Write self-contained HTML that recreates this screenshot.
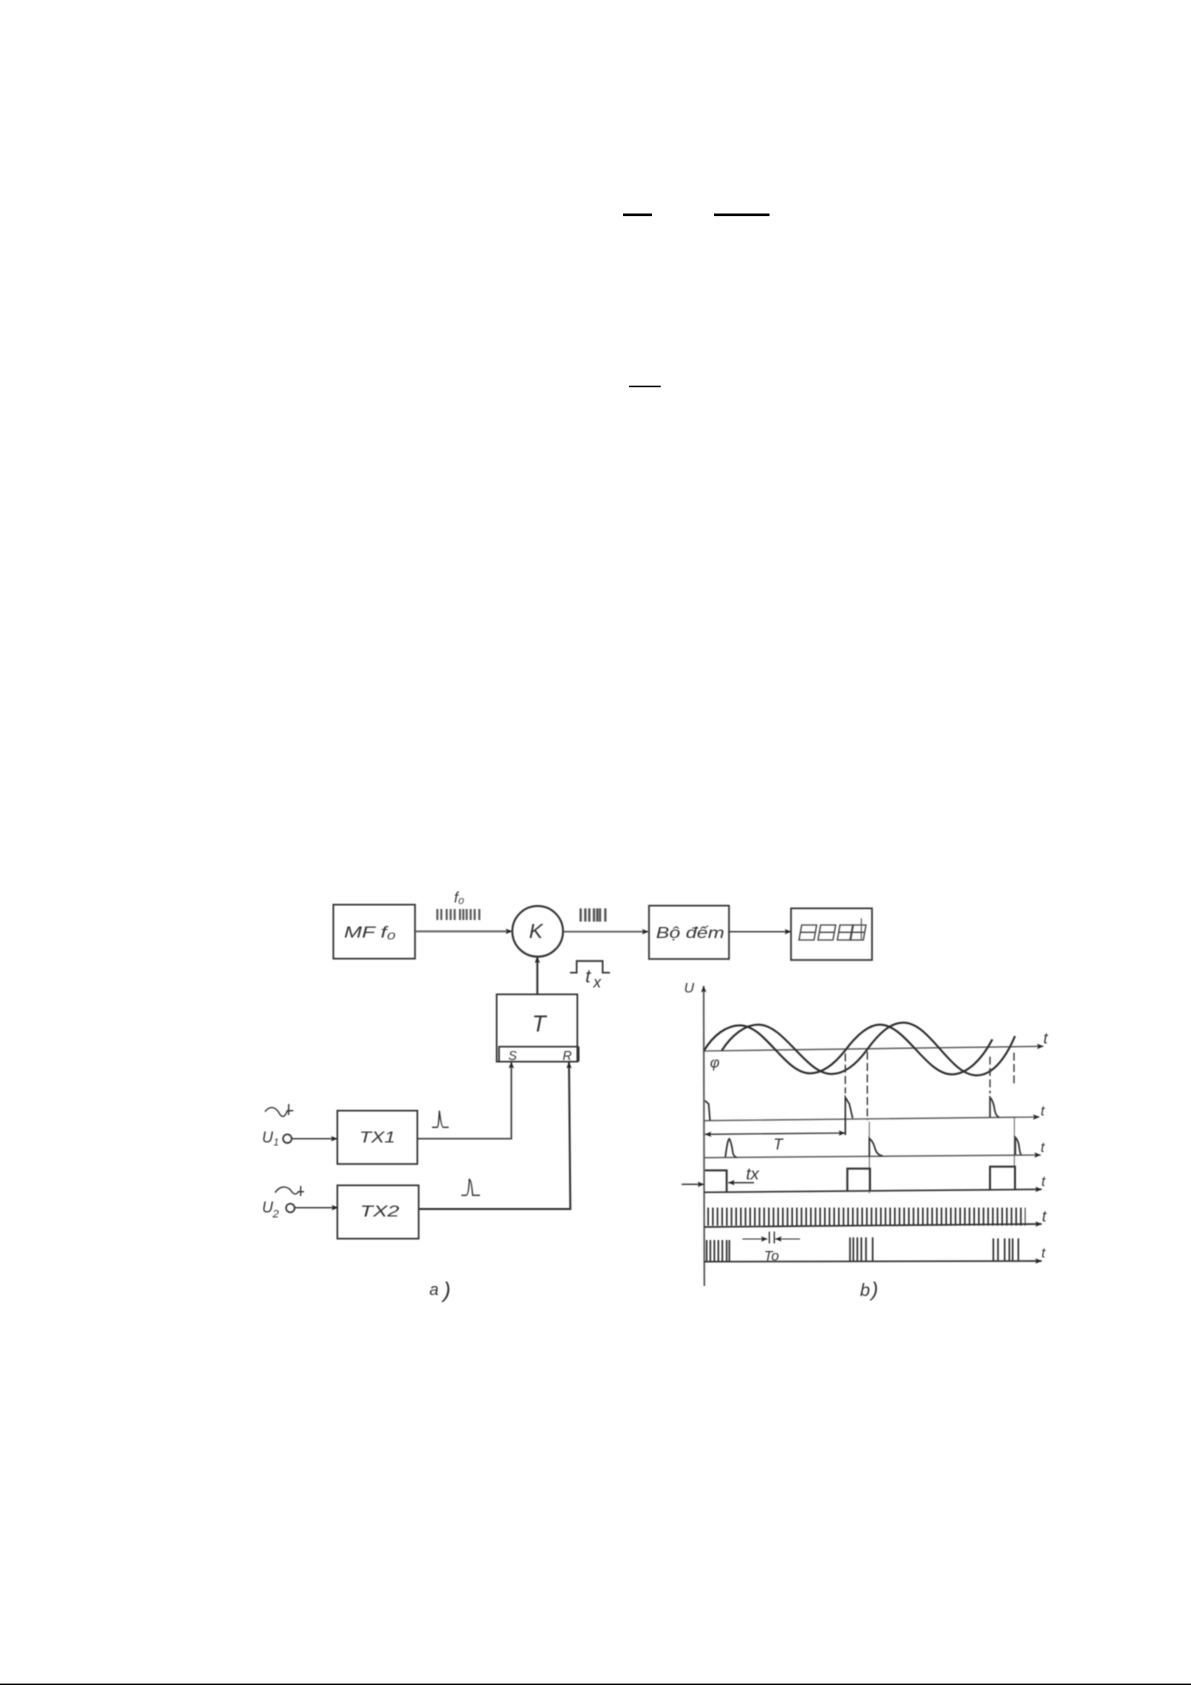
<!DOCTYPE html>
<html>
<head>
<meta charset="utf-8">
<style>
html,body{margin:0;padding:0;background:#fff;width:1191px;height:1685px;overflow:hidden}
svg{display:block;position:absolute;left:0;top:0}
text{font-family:"Liberation Sans",sans-serif;font-style:italic;fill:#333;stroke:none}
</style>
</head>
<body>
<svg width="1191" height="1685" viewBox="0 0 1191 1685" xmlns="http://www.w3.org/2000/svg">
<defs>
<filter id="b" x="-5%" y="-5%" width="110%" height="110%"><feGaussianBlur stdDeviation="1.4"/></filter>
<marker id="a" viewBox="0 0 20 16" refX="19" refY="8" markerWidth="20" markerHeight="16" markerUnits="userSpaceOnUse" orient="auto-start-reverse"><path d="M0 0L20 8L0 16L4 8Z" fill="#222"/></marker>
</defs>
<rect x="623" y="213.5" width="29" height="2.6" fill="#000"/>
<rect x="714" y="213.5" width="55.5" height="2.6" fill="#000"/>
<rect x="629" y="385.7" width="31.7" height="1.5" fill="#000"/>
<rect x="0" y="1683.6" width="1191" height="1.4" fill="#000"/>

<!-- a) block diagram -->
<g transform="translate(230,860) scale(.33333)" fill="none" stroke="#333" stroke-width="5" filter="url(#b)">
<rect x="310" y="134" width="245" height="162"/>
<circle cx="923" cy="214" r="76" stroke-width="6"/>
<rect x="800" y="403" width="242" height="202"/>
<path d="M805 560H1046M807 560V605M1046 560V605"/>
<rect x="322" y="752" width="240" height="160"/>
<rect x="322" y="976" width="244" height="160"/>
<line x1="557" y1="214" x2="846" y2="214" marker-end="url(#a)" stroke="#666" stroke-width="6"/>
<line x1="1001" y1="215" x2="1255" y2="215" marker-end="url(#a)" stroke="#555"/>
<line x1="922" y1="403" x2="922" y2="290" marker-end="url(#a)" stroke-width="6"/>
<path d="M564 836H844V606" marker-end="url(#a)" stroke="#444"/>
<path d="M566 1047H1021Q1018 800 1017 606" marker-end="url(#a)" stroke-width="6"/>
<circle cx="172" cy="836" r="13"/>
<circle cx="181" cy="1044" r="13"/>
<line x1="185" y1="836" x2="322" y2="836" marker-end="url(#a)" stroke-width="4"/>
<line x1="194" y1="1043" x2="324" y2="1043" marker-end="url(#a)" stroke-width="4"/>
<path d="M622 147V180M634 147V180M650 147V180M662 147V180M674 147V180M690 147V180M700 147V180M710 147V180M722 147V180M734 147V180M748 147V180" stroke="#555" stroke-width="6"/>
<path d="M1052 145V185M1066 145V185M1078 145V185M1092 145V185M1102 145V185M1110 145V185M1126 145V185" stroke="#555" stroke-width="7"/>
<path d="M1020 338H1040V303H1118V338H1140"/>
<path d="M606 802H622Q626 802 628 752Q634 802 640 802H656" stroke-width="4"/>
<path d="M694 1006H708Q716 1006 718 958Q724 958 728 1006H750" stroke-width="4"/>
<path d="M105 755Q125 730 145 755Q160 785 172 752H190M176 732V765" stroke-width="4"/>
<path d="M135 998Q155 970 180 988Q195 1012 205 995H222M212 978V1008" stroke-width="4"/>
<text x="342" y="232" font-size="48" textLength="155" lengthAdjust="spacingAndGlyphs">MF f₀</text>
<text x="672" y="128" font-size="44">f₀</text>
<text x="897" y="234" font-size="62">K</text>
<text x="906" y="514" font-size="68">T</text>
<text x="835" y="600" font-size="38">S</text>
<text x="998" y="600" font-size="38">R</text>
<text x="388" y="848" font-size="46" textLength="108" lengthAdjust="spacingAndGlyphs">TX1</text>
<text x="390" y="1070" font-size="46" textLength="118" lengthAdjust="spacingAndGlyphs">TX2</text>
<text x="96" y="848" font-size="46">U</text><text x="130" y="856" font-size="30">1</text>
<text x="96" y="1058" font-size="46">U</text><text x="128" y="1072" font-size="34">2</text>
<text x="1066" y="368" font-size="56">t</text><text x="1090" y="382" font-size="46">x</text>
<text x="598" y="1305" font-size="50">a</text><text x="640" y="1312" font-size="66">)</text>
</g>

<!-- display and counter -->
<g transform="translate(660,860) scale(.33333)" fill="none" stroke="#333" stroke-width="5" filter="url(#b)">
<rect x="-33" y="137" width="240" height="160"/>
<rect x="393" y="145" width="243" height="155"/>
<line x1="207" y1="215" x2="393" y2="215" marker-end="url(#a)" stroke-width="4"/>
<g stroke-width="4" stroke="#444">
<path d="M425 195H470L462 240H417ZM421 217H466"/>
<path d="M482 195H527L519 240H474ZM478 217H523"/>
<path d="M540 195H580L572 240H532ZM536 217H576"/>
<path d="M578 195H618L610 240H570ZM574 217H614"/>
<path d="M604 175V240" stroke-width="3"/>
</g>
<text x="-12" y="234" font-size="48" textLength="205" lengthAdjust="spacingAndGlyphs">Bộ đếm</text>

<!-- b) timing diagram -->
<line x1="133" y1="1278" x2="131" y2="378" marker-end="url(#a)" stroke="#555" stroke-width="5"/>
<text x="72" y="398" font-size="42">U</text>
<line x1="132" y1="573" x2="1150" y2="559" marker-end="url(#a)" stroke="#555" stroke-width="4"/>
<path d="M132 572C160 525 200 496 240 496C316 496 374 640 450 640C490 640 525 610 555 572C590 525 625 494 660 494C737 494 798 643 875 643C920 643 965 600 997 538" stroke-width="6" stroke="#2a2a2a"/>
<path d="M185 572C215 525 255 494 295 494C374 494 436 642 515 642C555 642 590 612 622 568C655 522 690 488 730 488C811 488 869 646 950 646C995 646 1035 600 1065 528" stroke-width="6" stroke="#2a2a2a"/>
<text x="150" y="622" font-size="44">φ</text>
<text x="1150" y="550" font-size="46">t</text>

<path d="M556 580V700M622 575V780M990 590V700M1062 578V680" stroke-dasharray="24 10" stroke-width="4"/>
<path d="M1063 770V920" stroke="#666" stroke-width="3"/>
<path d="M628 785V1000" stroke="#666" stroke-width="3"/>

<line x1="132" y1="782" x2="1138" y2="771" marker-end="url(#a)" stroke="#555" stroke-width="4"/>
<path d="M135 722L146 732L150 782M556 825V712L568 732L578 775M990 772V712Q1000 722 1004 750Q1008 770 1018 772" stroke-width="5"/>
<text x="1142" y="766" font-size="42">t</text>
<line x1="135" y1="823" x2="555" y2="819" marker-end="url(#a)" marker-start="url(#a)" stroke-width="4"/>
<text x="340" y="868" font-size="46">T</text>

<line x1="132" y1="893" x2="1142" y2="885" marker-end="url(#a)" stroke="#555" stroke-width="4"/>
<path d="M196 892Q203 836 208 836Q215 850 218 875Q220 890 230 892M628 890V835Q640 845 645 865Q650 885 668 888M1066 885V832Q1076 842 1078 865Q1080 882 1084 885" stroke-width="5"/>
<text x="1142" y="876" font-size="42">t</text>

<line x1="132" y1="997" x2="1145" y2="988" marker-end="url(#a)" stroke-width="5"/>
<path d="M135 931H200V995M562 992V926H630V992M990 990V920H1065V990" stroke-width="6"/>
<line x1="65" y1="973" x2="132" y2="973" marker-end="url(#a)" stroke-width="4"/>
<line x1="282" y1="968" x2="205" y2="968" marker-end="url(#a)" stroke-width="4"/>
<text x="258" y="958" font-size="50">tx</text>
<text x="1144" y="978" font-size="42">t</text>

<line x1="132" y1="1101" x2="1145" y2="1092" marker-end="url(#a)" stroke="#333" stroke-width="5"/>
<line x1="142" y1="1070" x2="1097" y2="1070" stroke-width="54" stroke-dasharray="5 9" stroke="#333"/>
<text x="1146" y="1084" font-size="46">t</text>

<line x1="132" y1="1205" x2="1145" y2="1203" marker-end="url(#a)" stroke-width="5"/>
<path d="M140 1205V1140M151 1205V1140M163 1205V1140M175 1205V1140M187 1205V1140M200 1205V1140M208 1205V1140M570 1203V1132M580 1203V1132M592 1203V1132M604 1203V1132M618 1203V1132M638 1203V1132M1000 1203V1135M1014 1203V1135M1034 1203V1135M1048 1203V1135M1058 1203V1135M1075 1203V1135" stroke-width="5"/>
<line x1="247" y1="1137" x2="322" y2="1137" marker-end="url(#a)" stroke-width="3"/>
<line x1="420" y1="1137" x2="346" y2="1137" marker-end="url(#a)" stroke-width="3"/>
<path d="M328 1115V1150M343 1115V1150" stroke-width="4"/>
<text x="312" y="1202" font-size="42">To</text>
<text x="1144" y="1192" font-size="42">t</text>
<text x="600" y="1308" font-size="54">b</text><text x="634" y="1310" font-size="62">)</text>
</g>
</svg>
</body>
</html>
